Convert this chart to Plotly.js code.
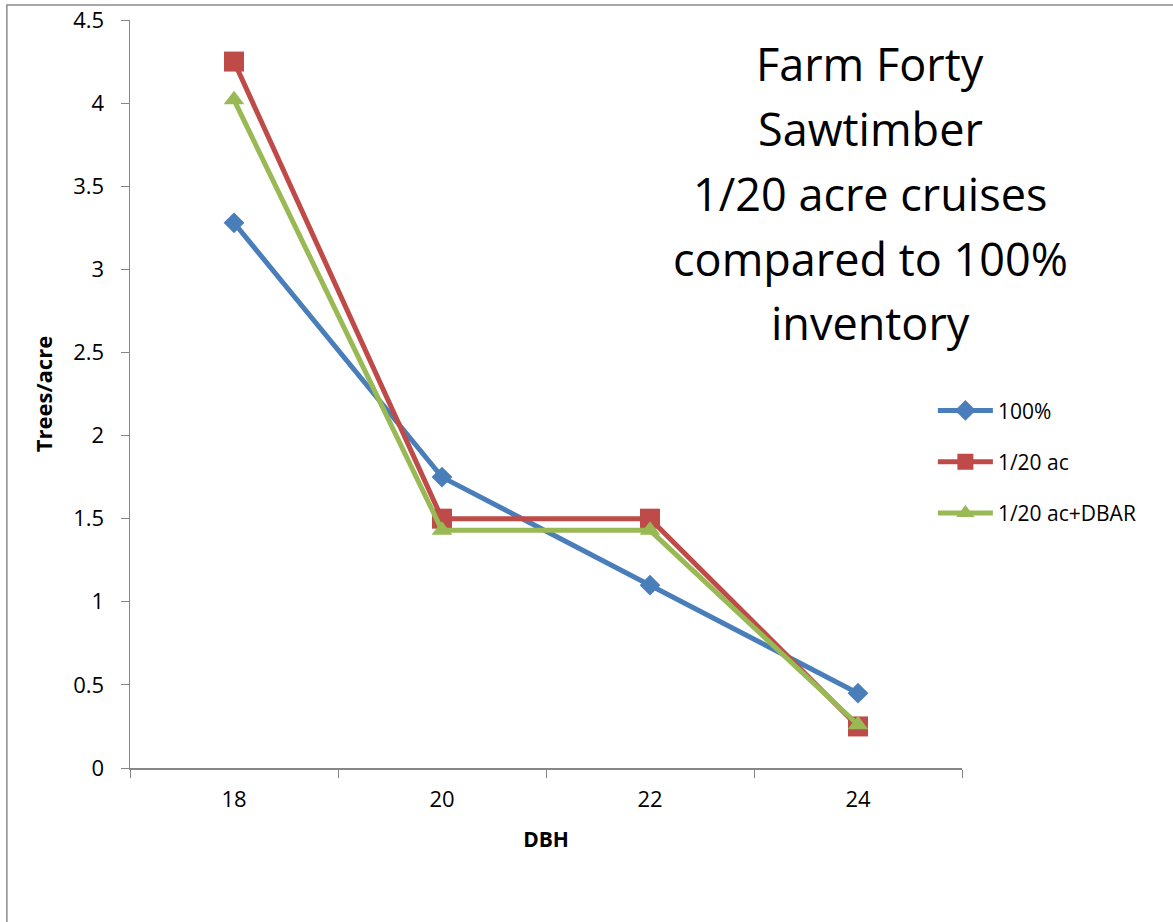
<!DOCTYPE html>
<html>
<head>
<meta charset="utf-8">
<script src="https://cdn.plot.ly/plotly-3.0.1.min.js"></script>
<style>
html,body{margin:0;padding:0;background:#fff;}
#chart{width:1173px;height:922px;}
</style>
</head>
<body>
<div id="chart"></div>
<script>
const dbh = ['18', '20', '22', '24'];
const full100 = [3.28, 1.75, 1.1, 0.45];
const ac20 = [4.25, 1.5, 1.5, 0.25];
const ac20dbar = [4.02, 1.43, 1.43, 0.26];
const seriesNames = ['100%', '1/20 ac', '1/20 ac+DBAR'];
const yTicks = [0, 0.5, 1, 1.5, 2, 2.5, 3, 3.5, 4, 4.5];
const yTickText = ['0', '0.5', '1', '1.5', '2', '2.5', '3', '3.5', '4', '4.5'];
const titleLines = ['Farm Forty', 'Sawtimber', '1/20 acre cruises', 'compared to 100%', 'inventory'];

const font = 'Open Sans, Liberation Sans, sans-serif';

const traces = [
  {x: dbh, y: full100, name: seriesNames[0], type: 'scatter', mode: 'lines+markers',
   line: {color: '#4A7EBB', width: 5}, marker: {symbol: 'diamond', size: 16, color: '#4A7EBB'}, legendgroup: 'a'},
  {x: dbh, y: ac20, name: seriesNames[1], type: 'scatter', mode: 'lines+markers',
   line: {color: '#BE4B48', width: 5}, marker: {symbol: 'square', size: 20, color: '#BE4B48'}, legendgroup: 'b'},
  {x: dbh, y: ac20dbar, name: seriesNames[2], type: 'scatter', mode: 'lines+markers',
   line: {color: '#98B954', width: 5}, marker: {symbol: 'triangle-up', size: 18, color: '#98B954'}, legendgroup: 'c'}
];

// plot area: x 130..962 px, y 20..768 px
const annotations = titleLines.map((t, i) => ({
  xref: 'paper', yref: 'paper',
  x: (870 - 130) / 832, y: (768 - (63 + 65 * i)) / 748,
  xanchor: 'center', yanchor: 'middle', text: t, showarrow: false,
  font: {size: 45, family: font, color: '#000'}
}));

const layout = {
  width: 1173, height: 922,
  margin: {l: 130, r: 211, t: 20, b: 154},
  paper_bgcolor: '#fff', plot_bgcolor: '#fff',
  font: {family: font, size: 21, color: '#000'},
  showlegend: true,
  legend: {x: 0.965, y: 0.505, xanchor: 'left', yanchor: 'top', traceorder: 'grouped',
           tracegroupgap: 21, itemwidth: 55, font: {size: 21, family: font}, bgcolor: 'rgba(0,0,0,0)'},
  xaxis: {type: 'category', range: [-0.5, 3.5], tickson: 'boundaries', ticks: 'outside', ticklen: 8, tickcolor: '#868686',
          showline: true, linecolor: '#868686', linewidth: 1.5, showgrid: false, zeroline: false,
          ticklabelstandoff: 11, tickfont: {size: 22},
          title: {text: '<b>DBH</b>', font: {size: 21}, standoff: 20}},
  yaxis: {range: [0, 4.5], tickvals: yTicks, ticktext: yTickText, ticks: 'outside', ticklen: 8,
          tickcolor: '#868686', showline: true, linecolor: '#868686', linewidth: 1.5,
          showgrid: false, zeroline: false, tickfont: {size: 22}, ticklabelstandoff: 12,
          title: {text: '<b>Trees/acre</b>', font: {size: 22}, standoff: 14}},
  annotations: annotations,
  shapes: [{
    type: 'rect', xref: 'paper', yref: 'paper', x0: -0.148, x1: 1.4, y0: -0.4, y1: 1.02,
    line: {color: '#8a8a8a', width: 1.5}, fillcolor: 'rgba(0,0,0,0)', layer: 'below'
  }]
};

Plotly.newPlot('chart', traces, layout, {displayModeBar: false, staticPlot: true});
</script>
</body>
</html>
